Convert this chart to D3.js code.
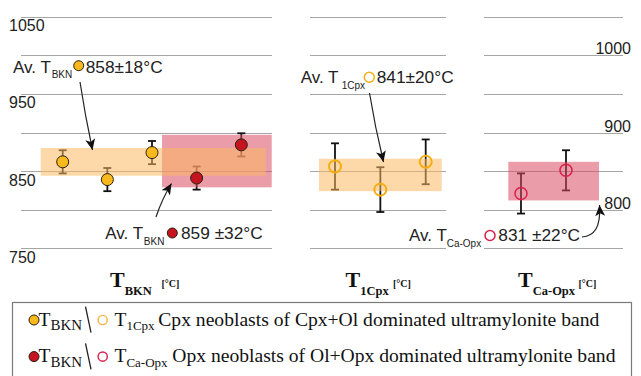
<!DOCTYPE html>
<html>
<head>
<meta charset="utf-8">
<script src="https://cdn.jsdelivr.net/npm/d3@7"></script>
<style>
  body { margin: 0; background: #fff; }
  svg { display: block; }
</style>
</head>
<body>
<div id="chart"></div>
<script>
// ---- data ----
const gridValues = [750, 800, 850, 900, 950, 1000, 1050];
const leftTickLabels = [1050, 950, 850, 750];
const rightTickLabels = [1000, 900, 800];

// T_BKN panel: three Cpx-band samples (orange) and two Opx-band samples (red)
const bknSamples = ['a', 'b', 'c', 'd', 'e'];
const bknValues = [862, 839, 874, 841, 884];
const bknErrors = [15, 15, 15, 15, 15];
const bknGroups = ['cpx', 'cpx', 'cpx', 'opx', 'opx'];

// T_1Cpx panel
const cpxSamples = ['a', 'b', 'c'];
const cpxValues = [856, 826, 862];
const cpxErrors = [30, 29, 29];

// T_Ca-Opx panel
const opxSamples = ['a', 'b'];
const opxValues = [821, 851];
const opxErrors = [26, 26];

// average bands (centre, half width) as drawn
const bandCentres = [862, 863, 845, 837];
const bandHalfWidths = [18, 34, 21, 25];

const annotationValues = ['858±18°C', '859 ±32°C', '841±20°C', '831 ±22°C'];

// ---- layout ----
const width = 641, height = 376;
const colors = {
  cpxFill: '#f9b91c', opxFill: '#c4141f',
  cpxOpen: '#f5ad10', opxOpen: '#d81f4d',
  cpxBand: '#fbb860', opxBand: '#d84a62',
  grid: '#a6a6a6'
};

const svg = d3.select('#chart').append('svg')
  .attr('width', width).attr('height', height);

const y = d3.scaleLinear().domain([750, 1050]).range([248.3, 16.7]);

const panels = [
  { grid: [21, 272], pts: [62.7, 241.3], samples: bknSamples, values: bknValues, errors: bknErrors,
    groups: bknGroups, open: false },
  { grid: [310, 446], pts: [335, 425.7], samples: cpxSamples, values: cpxValues, errors: cpxErrors,
    groups: cpxSamples.map(() => 'cpx'), open: true },
  { grid: [484, 623], pts: [521, 566], samples: opxSamples, values: opxValues, errors: opxErrors,
    groups: opxSamples.map(() => 'opx'), open: true }
];
panels.forEach(p => {
  p.x = d3.scalePoint().domain(p.samples).range(p.pts);
});

// band extents: panel, first/last sample it spans and extra padding in px
const bandLayout = [
  { panel: 0, from: 'a', to: 'e', padL: 22, padR: 24.4, color: colors.cpxBand },
  { panel: 0, from: 'd', to: 'e', padL: 34.6, padR: 30.4, color: colors.opxBand },
  { panel: 1, from: 'a', to: 'c', padL: 16, padR: 16, color: colors.cpxBand },
  { panel: 2, from: 'a', to: 'b', padL: 12.7, padR: 33, color: colors.opxBand }
];

// grid lines
panels.forEach(p => {
  const g = svg.append('g')
    .attr('transform', 'translate(' + p.grid[0] + ',0)')
    .call(d3.axisLeft(y).tickValues(gridValues).tickSize(-(p.grid[1] - p.grid[0])).tickFormat(''));
  g.select('.domain').remove();
  g.selectAll('line').attr('stroke', colors.grid).attr('shape-rendering', 'crispEdges');
});

// tick labels
const leftAxis = svg.append('g')
  .attr('transform', 'translate(9,0)')
  .call(d3.axisRight(y).tickValues(leftTickLabels).tickFormat(d3.format('d')).tickSize(0).tickPadding(0));
leftAxis.select('.domain').remove();
leftAxis.selectAll('text')
  .attr('dy', 14).attr('y', 0)
  .attr('font-family', 'Liberation Sans, Arial, sans-serif')
  .attr('font-size', 16).attr('fill', '#222');

const rightAxis = svg.append('g')
  .attr('transform', 'translate(631,0)')
  .call(d3.axisLeft(y).tickValues(rightTickLabels).tickFormat(d3.format('d')).tickSize(0).tickPadding(0));
rightAxis.select('.domain').remove();
rightAxis.selectAll('text')
  .attr('dy', -1.5).attr('y', 0)
  .attr('font-family', 'Liberation Sans, Arial, sans-serif')
  .attr('font-size', 16).attr('fill', '#222');

// error bars (under the bands)
panels.forEach(p => {
  const g = svg.append('g');
  p.samples.forEach((s, i) => {
    const cx = p.x(s);
    const top = y(p.values[i] + p.errors[i]), bot = y(p.values[i] - p.errors[i]);
    g.append('line').attr('x1', cx).attr('x2', cx).attr('y1', top).attr('y2', bot);
    g.append('line').attr('x1', cx - 4).attr('x2', cx + 4).attr('y1', top).attr('y2', top);
    g.append('line').attr('x1', cx - 4).attr('x2', cx + 4).attr('y1', bot).attr('y2', bot);
  });
  g.selectAll('line').attr('stroke', '#111').attr('stroke-width', 1.8);
});

// average bands (red first so orange overlaps on top)
[1, 3, 0, 2].forEach(i => {
  const b = bandLayout[i], p = panels[b.panel];
  const x0 = p.x(b.from) - b.padL, x1 = p.x(b.to) + b.padR;
  svg.append('rect')
    .attr('x', x0).attr('width', x1 - x0)
    .attr('y', y(bandCentres[i] + bandHalfWidths[i]))
    .attr('height', y(bandCentres[i] - bandHalfWidths[i]) - y(bandCentres[i] + bandHalfWidths[i]))
    .attr('fill', b.color).attr('fill-opacity', 0.55);
});

// points
panels.forEach(p => {
  svg.append('g').selectAll('circle')
    .data(p.samples.map((s, i) => ({ s, v: p.values[i], grp: p.groups[i] })))
    .join('circle')
    .attr('cx', d => p.x(d.s))
    .attr('cy', d => y(d.v))
    .attr('r', 6)
    .attr('fill', d => p.open ? 'none' : (d.grp === 'cpx' ? colors.cpxFill : colors.opxFill))
    .attr('stroke', d => p.open ? (d.grp === 'cpx' ? colors.cpxOpen : colors.opxOpen) : '#2a2010')
    .attr('stroke-width', d => p.open ? (d.grp === 'cpx' ? 2 : 1.5) : 1);
});

// arrow marker
svg.append('defs').append('marker')
  .attr('id', 'arrow')
  .attr('viewBox', '0 -5 10 10')
  .attr('refX', 10).attr('refY', 0)
  .attr('markerUnits', 'userSpaceOnUse')
  .attr('markerWidth', 11).attr('markerHeight', 11)
  .attr('orient', 'auto')
  .append('path')
  .attr('d', 'M0,-4.5L10,0L0,4.5L2.5,0Z')
  .attr('fill', '#111');

// annotations
const sans = 'Liberation Sans, Arial, sans-serif';
const annotations = [
  { x: 13, y: 72.7, sub: 'BKN', subX: 51.7, subDy: 5.6, cx: 78.7, cy: 65.7, dot: 'fill', group: 'cpx', valX: 85.7,
    arrow: 'M80,82 Q85,115 92.5,150' },
  { x: 105.3, y: 239.3, sub: 'BKN', subX: 143.8, subDy: 5.6, cx: 172.3, cy: 233, dot: 'fill', group: 'opx', valX: 181,
    arrow: 'M156,217 Q162,199 171.5,183.5' },
  { x: 300.7, y: 83.3, sub: '1Cpx', subX: 341.7, subDy: 5.6, cx: 369.3, cy: 77.3, dot: 'open', group: 'cpx', valX: 376.7,
    arrow: 'M369.5,93 Q375,127 383.5,162' },
  { x: 409, y: 241, sub: 'Ca-Opx', subX: 446.7, subDy: 5.6, cx: 490, cy: 235.5, dot: 'open', group: 'opx', valX: 498.3,
    arrow: 'M582,237 C594,236 601,228 599.5,205' }
];
annotations.forEach((a, i) => {
  svg.append('path').attr('d', a.arrow).attr('fill', 'none')
    .attr('stroke', '#222').attr('stroke-width', 1.2).attr('marker-end', 'url(#arrow)');
  svg.append('text').attr('x', a.x).attr('y', a.y)
    .attr('font-family', sans).attr('font-size', 17).attr('fill', '#222').text('Av. T');
  svg.append('text').attr('x', a.subX).attr('y', a.y + a.subDy)
    .attr('font-family', sans).attr('font-size', 10).attr('fill', '#222').text(a.sub);
  svg.append('circle').attr('cx', a.cx).attr('cy', a.cy).attr('r', 5)
    .attr('fill', a.dot === 'fill' ? (a.group === 'cpx' ? colors.cpxFill : colors.opxFill) : '#fff')
    .attr('stroke', a.dot === 'fill' ? '#2a2010' : (a.group === 'cpx' ? colors.cpxOpen : colors.opxOpen))
    .attr('stroke-width', a.dot === 'fill' ? 1 : 1.5);
  svg.append('text').attr('x', a.valX).attr('y', a.y)
    .attr('font-family', sans).attr('font-size', 17.3).attr('fill', '#222').text(annotationValues[i]);
});

// panel titles
const serif = 'Liberation Serif, Times New Roman, serif';
const titles = [
  { x: 110, sub: 'BKN', unitX: 161.5 },
  { x: 345.5, sub: '1Cpx', unitX: 393 },
  { x: 518, sub: 'Ca-Opx', unitX: 578.5 }
];
titles.forEach(t => {
  const txt = svg.append('text').attr('y', 286.7)
    .attr('font-family', serif).attr('font-weight', 'bold').attr('fill', '#111');
  txt.append('tspan').attr('x', t.x).attr('font-size', 22).text('T');
  txt.append('tspan').attr('dy', 8).attr('font-size', 12.5).text(t.sub);
  txt.append('tspan').attr('x', t.unitX).attr('dy', -8).attr('font-size', 10).text('[°C]');
});

// legend
svg.append('rect').attr('x', 12.5).attr('y', 302.5).attr('width', 619).attr('height', 90)
  .attr('fill', 'none').attr('stroke', '#7a7a7a').attr('stroke-width', 1.2);

const legendRows = [
  { y: 325.7, group: 'cpx', sub: '1Cpx', label: 'Cpx neoblasts of Cpx+Ol dominated ultramylonite band', labelX: 158.3 },
  { y: 362.3, group: 'opx', sub: 'Ca-Opx', label: 'Opx neoblasts of Ol+Opx dominated ultramylonite band', labelX: 172.3 }
];
legendRows.forEach(r => {
  const fillC = r.group === 'cpx' ? colors.cpxFill : colors.opxFill;
  const openC = r.group === 'cpx' ? '#f8b040' : colors.opxOpen;
  svg.append('circle').attr('cx', 34).attr('cy', r.y - 5.7).attr('r', 5)
    .attr('fill', fillC).attr('stroke', '#2a2010').attr('stroke-width', 1);
  const t1 = svg.append('text').attr('x', 38.5).attr('y', r.y)
    .attr('font-family', serif).attr('fill', '#111');
  t1.append('tspan').attr('font-size', 19.5).text('T');
  t1.append('tspan').attr('font-size', 15).attr('dy', 4.5).text('BKN');
  svg.append('line').attr('x1', 85.5).attr('y1', r.y - 19).attr('x2', 91).attr('y2', r.y + 7)
    .attr('stroke', '#222').attr('stroke-width', 1.3);
  svg.append('circle').attr('cx', 102.7).attr('cy', r.y - 5.7).attr('r', 4.6)
    .attr('fill', 'none').attr('stroke', openC).attr('stroke-width', 1.4);
  const t2 = svg.append('text').attr('x', 114.5).attr('y', r.y)
    .attr('font-family', serif).attr('fill', '#111');
  t2.append('tspan').attr('font-size', 19.5).text('T');
  t2.append('tspan').attr('font-size', 13).attr('dy', 4.5).text(r.sub);
  svg.append('text').attr('x', r.labelX).attr('y', r.y)
    .attr('font-family', serif).attr('font-size', 19.6).attr('fill', '#111').text(r.label);
});
</script>
</body>
</html>
